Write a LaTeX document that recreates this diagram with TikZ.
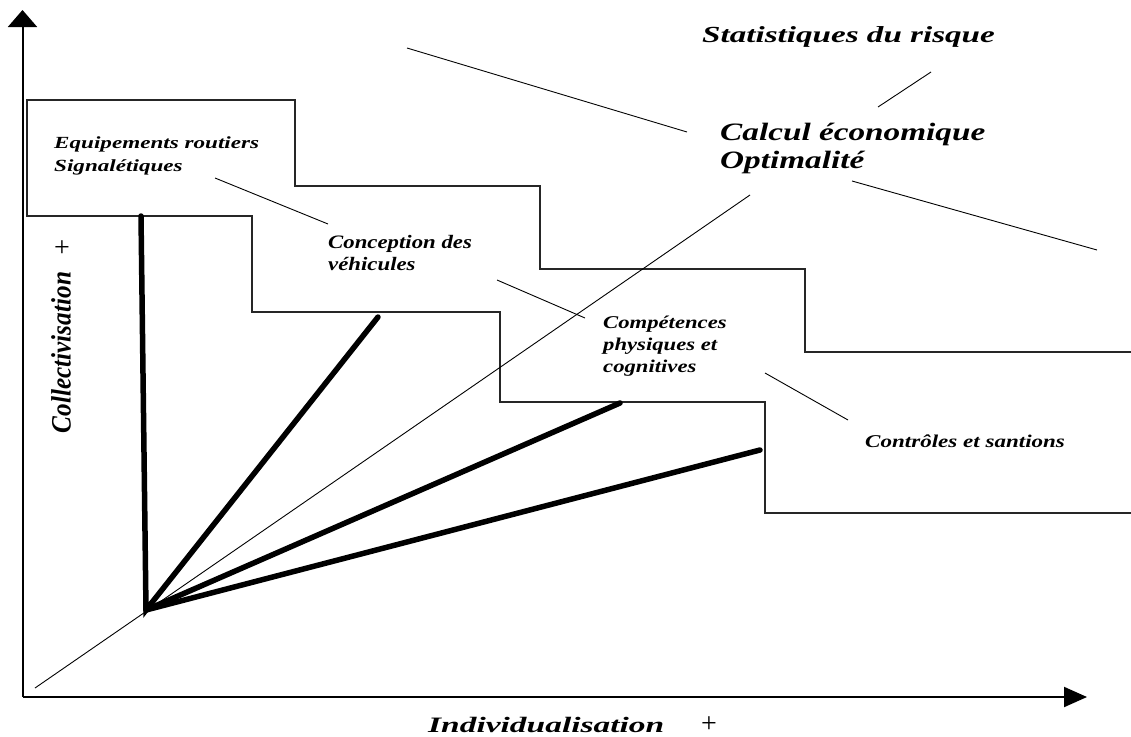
\documentclass[tikz,border=0pt]{standalone}
\usepackage{fontspec}
\setmainfont{Liberation Serif}
\usepackage{graphicx}
\usetikzlibrary{arrows.meta}
\newcommand\lbltext[4]{{\fontsize{#2}{#3}\selectfont\scalebox{#1}[1]{\begin{tabular}[t]{@{}l@{}}#4\end{tabular}}}}
\newcommand\plustext{{\fontsize{28}{28}\selectfont +}}
\tikzset{
  lab/.style={inner sep=0pt, anchor=base west, font=\bfseries\itshape},
  axisline/.style={line width=2pt},
  stepline/.style={line width=1.5pt, black!85},
  thinline/.style={line width=0.9pt},
  ray/.style={line width=5.5pt, line cap=round},
  plusmark/.style={inner sep=0pt, anchor=base, text height=14pt, text depth=0pt}
}
\begin{document}
\begin{tikzpicture}[x=1pt,y=-1pt]
\useasboundingbox (0,0) rectangle (1131,736);
% axes
\coordinate (O) at (22.5,697);
\coordinate (Ytop) at (22.5,10);
\coordinate (Xend) at (1087,697);
\draw[axisline,-{Triangle[length=17pt,width=29pt]}] (O) -- (Ytop);
\draw[axisline,-{Triangle[length=23pt,width=20pt]}] (O) -- (Xend);
% step outline
\draw[stepline] (1131,352) -- (805,352) -- (805,269) -- (540,269) -- (540,186) -- (295,186) -- (295,100) -- (27,100) -- (27,216) -- (252,216) -- (252,312) -- (500,312) -- (500,402) -- (765,402) -- (765,513) -- (1131,513);
% diagonal
\coordinate (D1) at (35,688);
\coordinate (D2) at (750,195);
\draw[thinline] (D1) -- (D2);
% rays
\coordinate (V) at (146,610);
\coordinate (R1) at (141,216);
\coordinate (R2) at (378,317);
\coordinate (R3) at (620,403);
\coordinate (R4) at (760,450);
\draw[ray] (R1) -- (V) -- (R2);
\draw[ray] (V) -- (R3);
\draw[ray] (V) -- (R4);
% leader lines
\coordinate (a1) at (407,48);  \coordinate (a2) at (687,132);
\coordinate (b1) at (878,107); \coordinate (b2) at (931,72);
\coordinate (c1) at (852,181); \coordinate (c2) at (1097,250);
\coordinate (d1) at (215,178); \coordinate (d2) at (328,224);
\coordinate (e1) at (497,280); \coordinate (e2) at (585,318);
\coordinate (f1) at (765,373); \coordinate (f2) at (848,420);
\draw[thinline] (a1) -- (a2);
\draw[thinline] (b1) -- (b2);
\draw[thinline] (c1) -- (c2);
\draw[thinline] (d1) -- (d2);
\draw[thinline] (e1) -- (e2);
\draw[thinline] (f1) -- (f2);
% labels
\node[lab] (stat) at (702,42) {\lbltext{1.44}{23}{26}{Statistiques du risque}};
\node[lab] (calc) at (720,140) {\lbltext{1.33}{25}{28}{Calcul économique\\Optimalité}};
\node[lab] (equip) at (54,148) {\lbltext{1.36}{17}{23}{Equipements routiers\\Signalétiques}};
\node[lab] (conc) at (328,248) {\lbltext{1.2}{19}{22}{Conception des\\véhicules}};
\node[lab] (comp) at (603,328) {\lbltext{1.26}{18}{22}{Compétences\\physiques et\\cognitives}};
\node[lab] (ctrl) at (865,447) {\lbltext{1.28}{18}{20}{Contrôles et santions}};
\node[lab] (indiv) at (428,732) {\lbltext{1.52}{22}{24}{Individualisation}};
\node[lab, rotate=90, anchor=base] (coll) at (70.5,352.5) {\lbltext{0.9}{28}{30}{Collectivisation}};
\node[plusmark] (px) at (709,732) {\plustext};
\node[plusmark] (py) at (62,256) {\plustext};
\end{tikzpicture}
\end{document}
